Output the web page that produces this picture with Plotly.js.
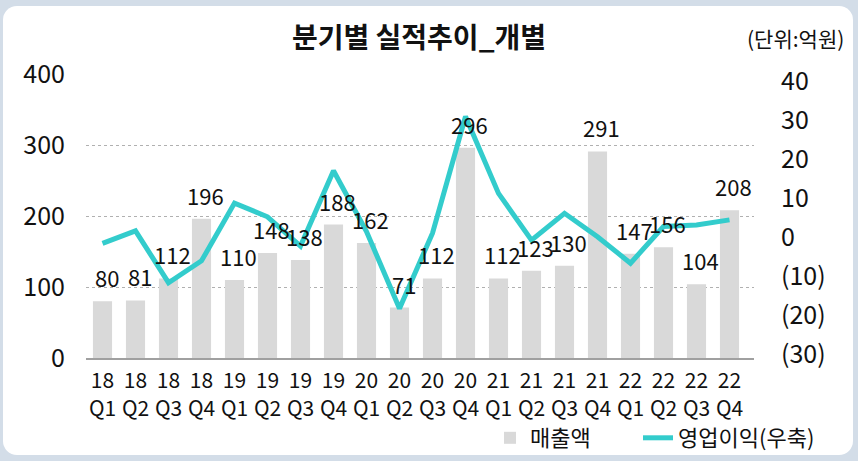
<!DOCTYPE html>
<html>
<head>
<meta charset="utf-8">
<script src="https://cdn.plot.ly/plotly-3.0.1.min.js"></script>
<style>
  html, body { margin: 0; padding: 0; width: 858px; height: 461px; overflow: hidden; background: #d3dde8; }
  #card { position: absolute; left: 3px; top: 6px; width: 850px; height: 449px; background: #ffffff; border-radius: 14px; }
  #chart { position: absolute; left: 0; top: 0; width: 858px; height: 461px; }
</style>
</head>
<body>
<div id="card"></div>
<div id="chart"></div>
<script>
// ---- data ----
const categories = ["18<br>Q1","18<br>Q2","18<br>Q3","18<br>Q4","19<br>Q1","19<br>Q2","19<br>Q3","19<br>Q4",
                    "20<br>Q1","20<br>Q2","20<br>Q3","20<br>Q4","21<br>Q1","21<br>Q2","21<br>Q3","21<br>Q4",
                    "22<br>Q1","22<br>Q2","22<br>Q3","22<br>Q4"];
const sales = [80, 81, 112, 196, 110, 148, 138, 188, 162, 71, 112, 296, 112, 123, 130, 291, 147, 156, 104, 208];
const operatingProfit = [-1.6, 1.6, -11.7, -6.1, 8.7, 5.2, -2.3, 17.0, 1.4, -18.3, 1.0, 30.9, 11.2, -0.8, 6.1, 0.1, -6.7, 2.7, 3.1, 4.4];
const leftTicks = [0, 100, 200, 300, 400];
const rightTickVals = [-30, -20, -10, 0, 10, 20, 30, 40];
const rightTickText = ["(30)", "(20)", "(10)", "0", "10", "20", "30", "40"];
const seriesNames = ["매출액", "영업이익(우축)"];
const titleText = "분기별 실적추이_개별";
const unitText = "(단위:억원)";

const FONT = "'Noto Sans CJK KR', 'Noto Sans', sans-serif";

const traces = [
  {
    type: "bar",
    x: categories,
    y: sales,
    name: seriesNames[0],
    legend: "legend",
    marker: { color: "#d9d9d9" },
    hoverinfo: "skip"
  },
  {
    type: "scatter",
    mode: "lines",
    x: categories,
    y: operatingProfit,
    yaxis: "y2",
    name: seriesNames[1],
    legend: "legend2",
    line: { color: "#33cccc", width: 5 },
    hoverinfo: "skip"
  }
];

const labelAnnotations = sales.map((v, i) => ({
  x: categories[i],
  y: v,
  xref: "x",
  yref: "y",
  text: String(v),
  showarrow: false,
  xanchor: "center",
  yanchor: "middle",
  yshift: 24,
  xshift: 4,
  font: { family: FONT, size: 22, color: "#111111" }
}));

const legendBase = {
  orientation: "h",
  xref: "container",
  xanchor: "left",
  y: 1 - 438 / 461,
  yref: "container",
  yanchor: "middle",
  font: { family: FONT, size: 22, color: "#111111" },
  bgcolor: "rgba(0,0,0,0)",
  itemwidth: 30
};

const layout = {
  width: 858,
  height: 461,
  margin: { l: 86, r: 104, t: 74, b: 103, pad: 0 },
  paper_bgcolor: "rgba(0,0,0,0)",
  plot_bgcolor: "rgba(0,0,0,0)",
  font: { family: FONT, color: "#111111" },
  bargap: 0.42,
  showlegend: true,
  title: {
    text: titleText,
    font: { family: FONT, size: 28, color: "#111111", weight: "bold" },
    x: 419 / 858,
    xanchor: "center",
    xref: "container",
    y: 1 - 38 / 461,
    yanchor: "middle",
    yref: "container"
  },
  xaxis: {
    type: "category",
    tickfont: { family: FONT, size: 21, color: "#111111" },
    showline: true,
    linecolor: "#a0a0a0",
    linewidth: 2,
    ticks: "",
    showgrid: false,
    ticklabelstandoff: 3,
    fixedrange: true
  },
  yaxis: {
    range: [0, 400],
    tickvals: leftTicks,
    tickfont: { family: FONT, size: 25, color: "#111111" },
    showgrid: true,
    gridcolor: "#b0b0b0",
    griddash: "dot",
    gridwidth: 1,
    zeroline: false,
    showline: false,
    ticks: "",
    ticklabelstandoff: 20,
    fixedrange: true
  },
  yaxis2: {
    overlaying: "y",
    side: "right",
    range: [-31, 41.8],
    tickvals: rightTickVals,
    ticktext: rightTickText,
    tickfont: { family: FONT, size: 25, color: "#111111" },
    showgrid: false,
    zeroline: false,
    showline: false,
    ticks: "",
    ticklabelstandoff: 26,
    fixedrange: true
  },
  legend: Object.assign({}, legendBase, { x: 490 / 858 }),
  legend2: Object.assign({}, legendBase, { x: 638 / 858 }),
  annotations: labelAnnotations.concat([{
    text: unitText,
    xref: "paper",
    yref: "paper",
    x: (846 - 86) / 668,
    y: (358 - 38) / 284,
    xanchor: "right",
    yanchor: "middle",
    showarrow: false,
    font: { family: FONT, size: 21, color: "#111111" }
  }])
};

Plotly.newPlot("chart", traces, layout, { displayModeBar: false, staticPlot: true });
</script>
</body>
</html>
